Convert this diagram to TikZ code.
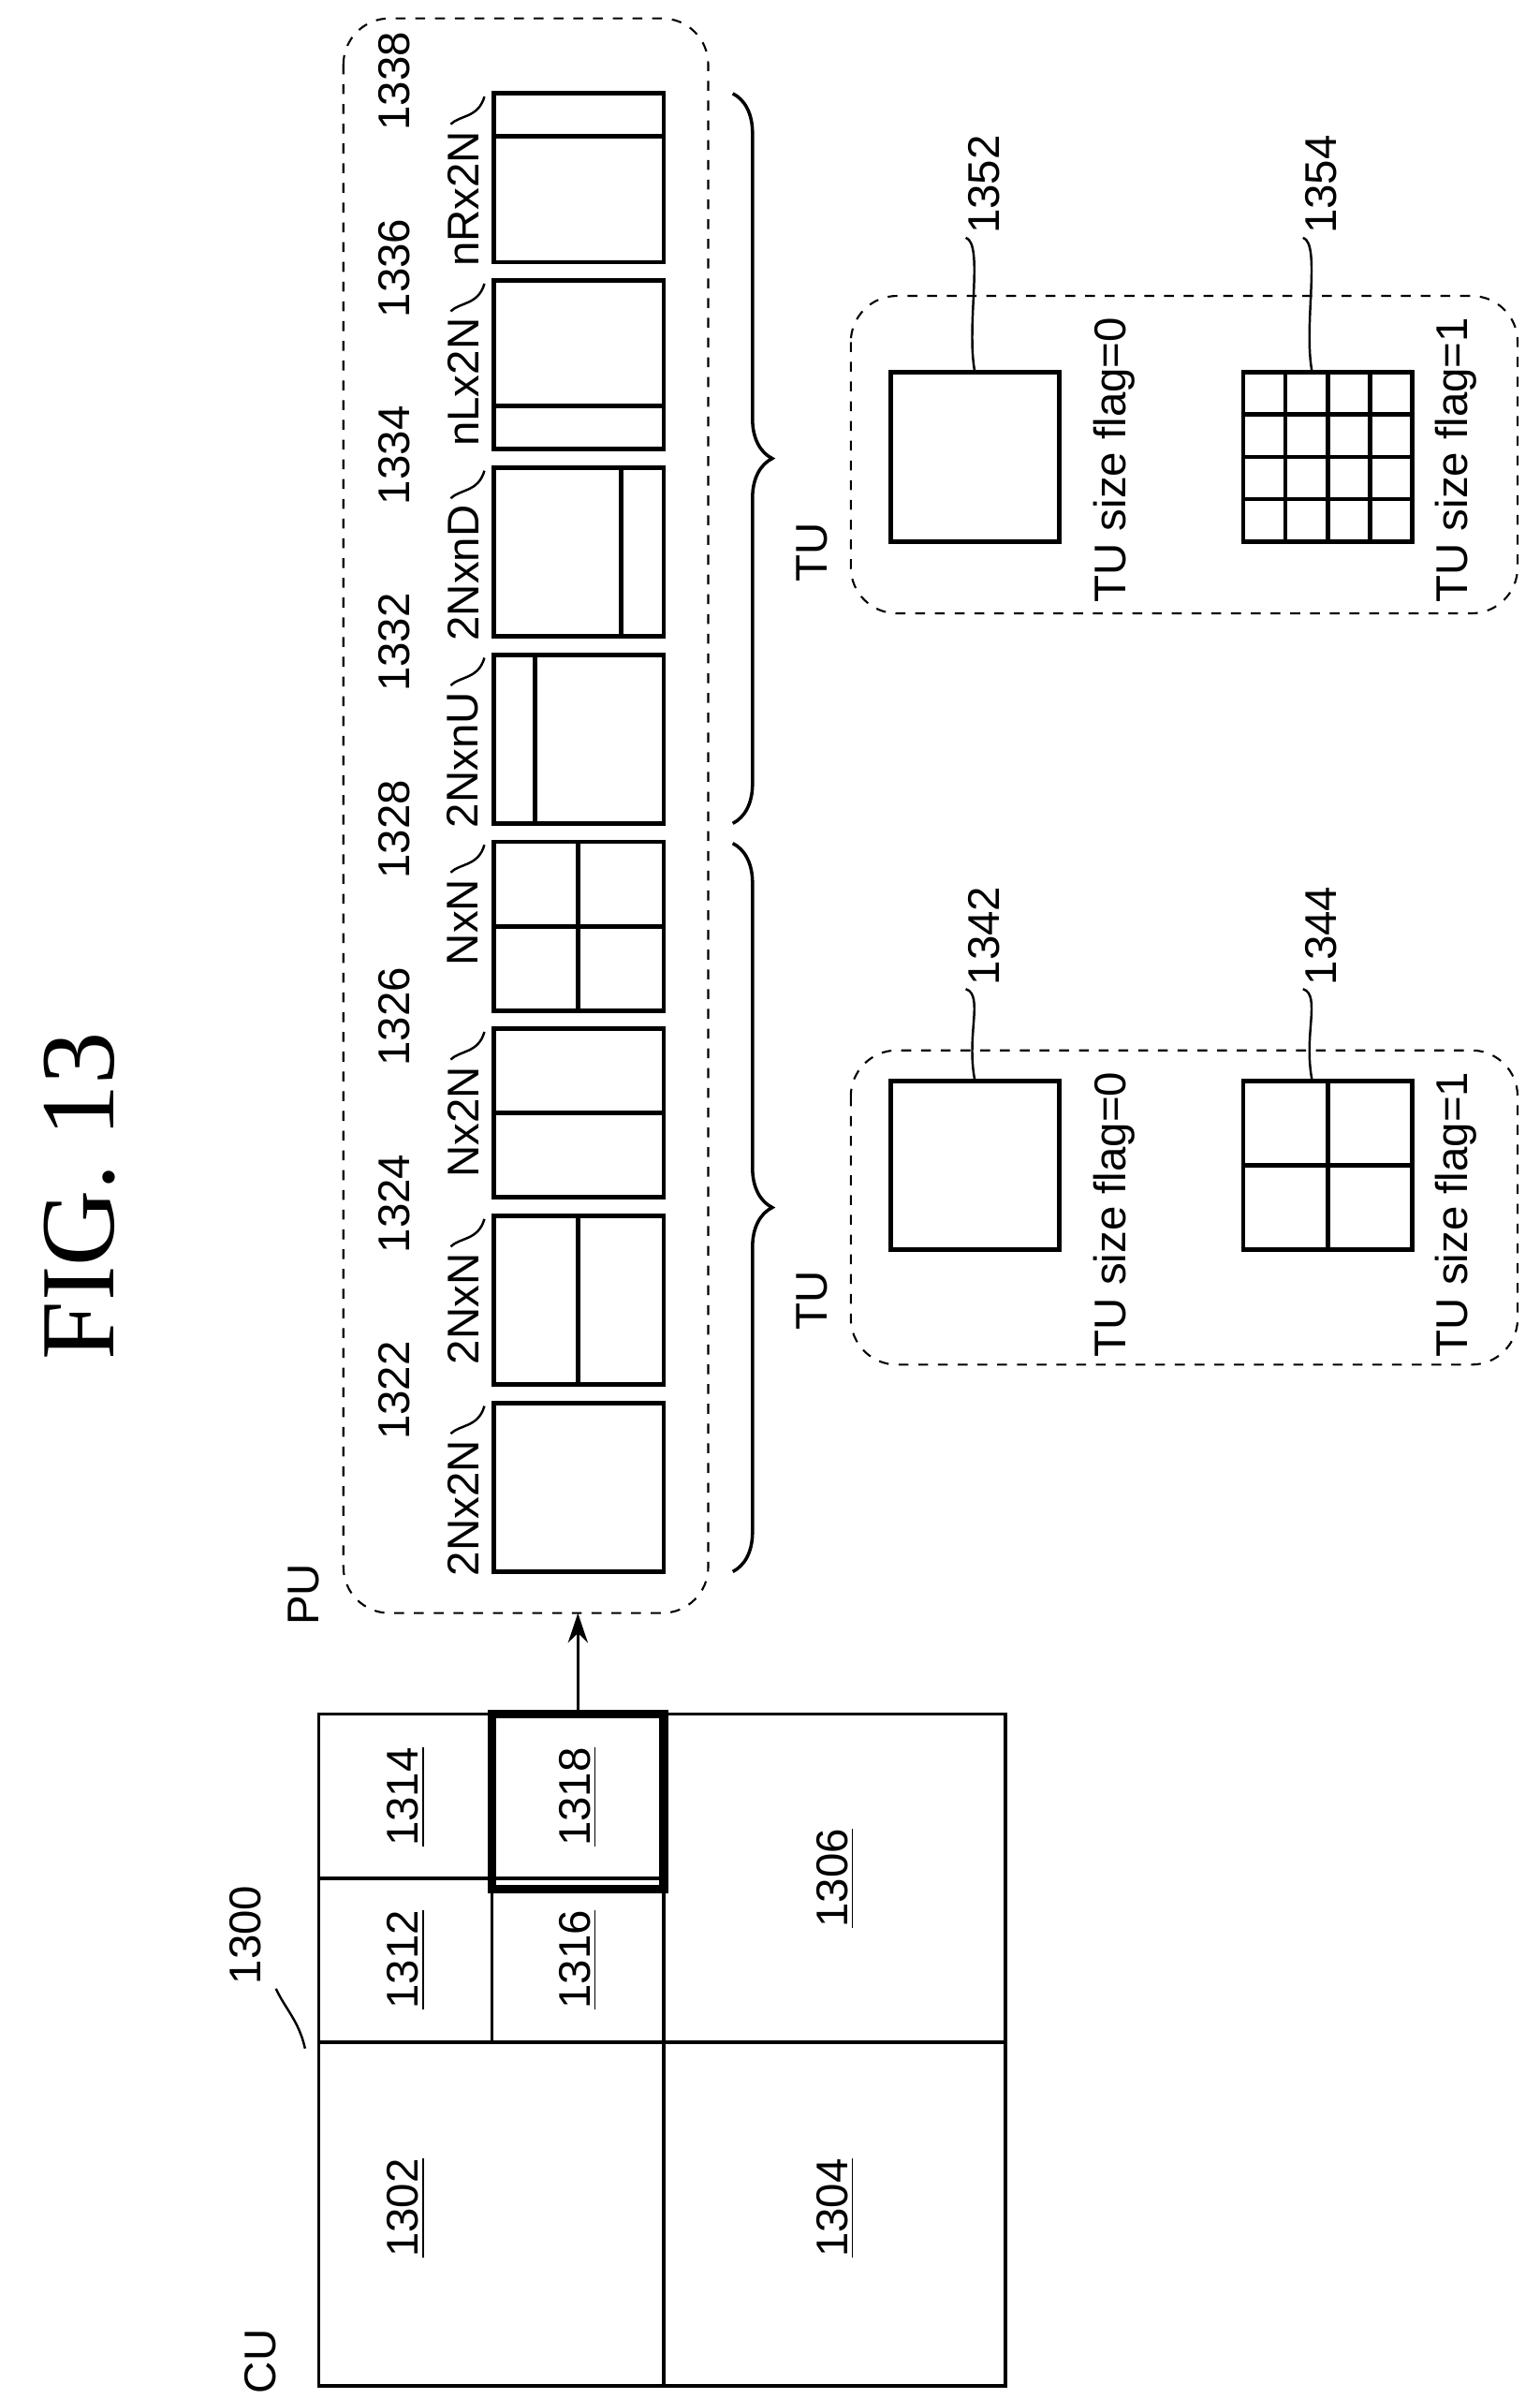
\documentclass[tikz,border=0pt]{standalone}
\usepackage{fontspec}
\setmainfont{Liberation Sans}
\newfontfamily\figfont{Liberation Serif}
\usetikzlibrary{decorations.pathreplacing,arrows.meta}
\begin{document}
\begin{tikzpicture}[x=0.16375mm,y=-0.16375mm,
  thinl/.style={line width=1pt},
  lbl/.style={rotate=90,font=\fontsize{13.5}{16}\selectfont,inner sep=0pt},
  dbox/.style={draw,dashed,line width=0.6pt,rounded corners=14pt},
  pubox/.style={draw,line width=1.4pt},
  lead/.style={line width=0.7pt}]
\useasboundingbox (0,0) rectangle (1004,1564.6);
% title
\node[rotate=90,font=\figfont\fontsize{32}{36}\selectfont] (fig) at (52,780) {FIG.\ 13};
% CU
\draw[thinl] (208,1118) rectangle (656,1556);
\draw[thinl] (208,1332) -- (656,1332) (433,1118) -- (433,1556);
\draw[thinl] (208,1225) -- (433,1225) (321,1118) -- (321,1332);
\draw[line width=2.6pt] (321,1118) rectangle (433,1232);
\node[lbl] (n1302) at (265,1440) {\underline{1302}};
\node[lbl] (n1304) at (545,1440) {\underline{1304}};
\node[lbl] (n1306) at (545,1225) {\underline{1306}};
\node[lbl] (n1312) at (265,1278) {\underline{1312}};
\node[lbl] (n1314) at (265,1172) {\underline{1314}};
\node[lbl] (n1316) at (377,1278) {\underline{1316}};
\node[lbl] (n1318) at (377,1172) {\underline{1318}};
\node[lbl] (cu) at (170,1540) {CU};
\node[lbl] (n1300) at (160,1262) {1300};
\draw[lead] (180,1297) .. controls (186,1310) and (195,1318) .. (199,1336);
% arrow
\coordinate (arrs) at (377,1116);
\draw[thinl,-{Stealth[length=9pt,width=6pt]}] (arrs) -- (377,1052);
% PU
\draw[dbox] (224,12) rectangle (462,1052);
\node[lbl] (pu) at (198,1040) {PU};
\foreach \y/\name/\num [count=\i] in {
  915/2Nx2N/1322, 793/2NxN/1324, 671/Nx2N/1326, 549/NxN/1328,
  427/2NxnU/1332, 305/2NxnD/1334, 183/nLx2N/1336, 61/nRx2N/1338}{
  \draw[pubox] (322,\y) rectangle (433,\y+110);
  \node[lbl,anchor=east] (t\i) at (302,\y+24) {\name};
  \node[lbl,anchor=center] (k\i) at (257,\y-8) {\num};
  \draw[lead] (294,\y+20) .. controls (300,\y+14) and (312,\y+16) .. (316,\y+2);
}
\draw[pubox] (377,793) -- (377,903);
\draw[pubox] (322,726) -- (433,726);
\draw[pubox] (322,604) -- (433,604) (377,549) -- (377,659);
\draw[pubox] (349,427) -- (349,537);
\draw[pubox] (405,305) -- (405,415);
\draw[pubox] (322,265) -- (433,265);
\draw[pubox] (322,89) -- (433,89);
% braces
\draw[thinl,decorate,decoration={brace,amplitude=12pt,mirror}] (478,1025) -- (478,550);
\draw[thinl,decorate,decoration={brace,amplitude=12pt,mirror}] (478,537) -- (478,61);
\node[lbl] (tu1) at (530,848) {TU};
\node[lbl] (tu2) at (530,360) {TU};
% TU boxes
\draw[dbox] (555,685) rectangle (990,890);
\draw[dbox] (555,193) rectangle (990,400);
\draw[pubox] (581,705) rectangle (691,815);
\draw[pubox] (811,705) rectangle (921,815);
\draw[pubox] (866,705) -- (866,815) (811,760) -- (921,760);
\draw[pubox] (581,243) rectangle (691,353);
\draw[pubox] (811,243) rectangle (921,353);
\foreach \k in {1,2,3}{
  \draw[pubox] (811+27.5*\k,243) -- (811+27.5*\k,353);
  \draw[pubox] (811,243+27.5*\k) -- (921,243+27.5*\k);
}
\node[lbl] (f1) at (727,792) {TU size flag=0};
\node[lbl] (f2) at (950,792) {TU size flag=1};
\node[lbl] (f3) at (727,300) {TU size flag=0};
\node[lbl] (f4) at (950,300) {TU size flag=1};
\node[lbl,anchor=west] (n1342) at (642,643) {1342};
\node[lbl,anchor=west] (n1344) at (862,643) {1344};
\node[lbl,anchor=west] (n1352) at (642,153) {1352};
\node[lbl,anchor=west] (n1354) at (862,153) {1354};
\foreach \x/\ya/\yb in {636/645/705, 856/645/705, 636/155/243, 856/155/243}{
  \draw[lead] (\x-6,\ya) .. controls (\x+6,\ya+4) and (\x-6,\yb-30) .. (\x,\yb);
}
\end{tikzpicture}
\end{document}
